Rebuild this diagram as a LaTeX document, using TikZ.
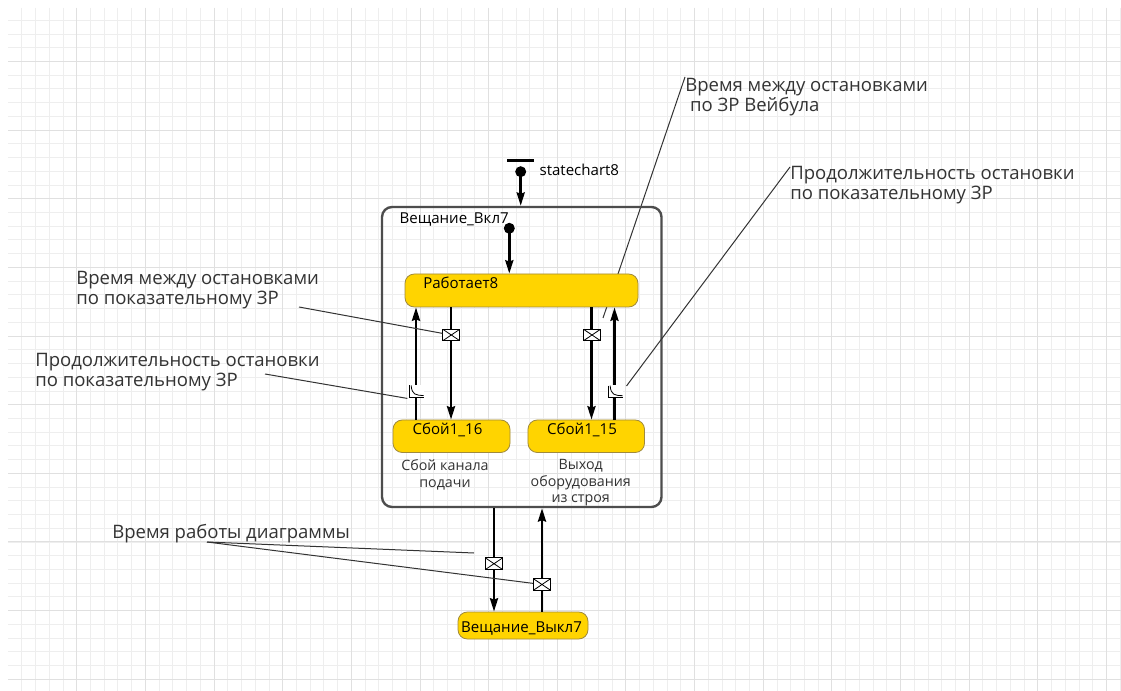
\documentclass[tikz,border=0pt]{standalone}
\usepackage{fontspec}
\setmainfont{Open Sans}
\usetikzlibrary{arrows.meta}
\definecolor{gmin}{HTML}{EEEEEE}
\definecolor{gmaj}{HTML}{E0E0E0}
\definecolor{gold}{HTML}{FFD400}
\definecolor{goldb}{HTML}{A08A3C}
\definecolor{cbord}{HTML}{4D4D4D}
\definecolor{ltext}{HTML}{333333}
\begin{document}
\begin{tikzpicture}[x=0.75pt,y=-0.75pt,
  state/.style={draw=goldb, line width=0.6pt, fill=gold, rounded corners=7pt, inner sep=0pt},
  container/.style={draw=cbord, line width=1.8pt, rounded corners=7.5pt, inner sep=0pt},
  tr/.style={line width=1.9pt, -{Stealth[length=10pt,width=6pt,inset=1pt]}},
  callout/.style={draw=ltext, line width=0.75pt},
  big/.style={font=\fontsize{13.9}{15}\selectfont, text=ltext, inner sep=0pt, align=left},
  mid/.style={font=\fontsize{11.3}{13}\selectfont, inner sep=0pt},
  small/.style={font=\fontsize{10.7}{12.4}\selectfont, text=ltext, inner sep=0pt, align=center},
  dot/.style={circle, fill=black, minimum size=8.25pt, inner sep=0pt},
  bar/.style={fill=black, minimum width=20pt, minimum height=2.25pt, inner sep=0pt},
  envelope/.style={draw=black, fill=white, line width=0.75pt, minimum width=12.75pt, minimum height=8.6pt, inner sep=0pt,
    path picture={\draw[line width=0.6pt] (path picture bounding box.north west) -- (path picture bounding box.south east)
      (path picture bounding box.north east) -- (path picture bounding box.south west);}},
  timeout/.style={fill=white, minimum width=12.5pt, minimum height=10pt, inner sep=0pt,
    path picture={\draw[line width=0.75pt] ([xshift=1pt,yshift=-0.5pt]path picture bounding box.north west) -- ([xshift=1pt,yshift=0.8pt]path picture bounding box.south west) -- ([yshift=0.8pt]path picture bounding box.south east);
      \draw[line width=0.6pt] ([xshift=2.6pt,yshift=-0.5pt]path picture bounding box.north west) .. controls ([xshift=3.2pt,yshift=2.5pt]path picture bounding box.south west) and ([xshift=6pt,yshift=2.2pt]path picture bounding box.south west) .. ([xshift=-0.5pt,yshift=2pt]path picture bounding box.south east);}}
]
\useasboundingbox (0,0) rectangle (1121,691);
\fill[white] (0,0) rectangle (1121,691);
% grid (snapped to pixel centres)
\foreach \i in {1,...,81} \draw[gmin, line width=0.75pt] ({round(7.65+\i*13.73)+0.5},8) -- ({round(7.65+\i*13.73)+0.5},691);
\foreach \i in {1,...,49} \draw[gmin, line width=0.75pt] (8,{round(6.08+\i*13.73)+0.5}) -- (1121,{round(6.08+\i*13.73)+0.5});
\foreach \i in {1,...,16} \draw[gmaj, line width=0.75pt] ({round(7.66+\i*68.64)+0.5},8) -- ({round(7.66+\i*68.64)+0.5},691);
\foreach \i in {1,...,10} \draw[gmaj, line width=0.75pt] (8,{round(-7.64+\i*68.64)+0.5}) -- (1121,{round(-7.64+\i*68.64)+0.5});

% callout texts (base = baseline of last line)
\node[big, anchor=base west] (tA) at (76,305) {Время между остановками\\по показательному ЗР};
\node[big, anchor=base west] (tB) at (35,387) {Продолжительность остановки\\по показательному ЗР};
\node[big, anchor=base west] (tC) at (685,111.7) {Время между остановками\\\ по ЗР Вейбула};
\node[big, anchor=base west] (tD) at (790,199.3) {Продолжительность остановки\\по показательному ЗР};
\node[big, anchor=base west] (tE) at (112,538) {Время работы диаграммы};

% container and states
\coordinate (cW) at (685,77);
\coordinate (cWe) at (603,318);
\draw[callout] (cW) -- (cWe);

\node[container, minimum width=209.6pt, minimum height=225pt] (on) at (521.75,357) {};
\node[mid, anchor=base west] (onL) at (399.3,224) {Вещание\_Вкл7};
\node[state, minimum width=174.75pt, minimum height=24.75pt] (work) at (521.5,290.5) {};
\node[mid, anchor=base west] (workL) at (423,288.3) {Работает8};
\node[state, minimum width=87.75pt, minimum height=24.4pt] (s16) at (451.5,436.25) {};
\node[mid, anchor=base] (s16L) at (447.5,434.3) {Сбой1\_16};
\node[state, minimum width=87.4pt, minimum height=24.4pt] (s15) at (586.25,436.25) {};
\node[mid, anchor=base] (s15L) at (582,434.3) {Сбой1\_15};
\node[state, minimum width=97.5pt, minimum height=20.25pt] (off) at (523,625.5) {};
\node[mid, anchor=base] (offL) at (521.5,632.7) {Вещание\_Выкл7};

\node[small, anchor=base] (d16) at (445,487) {Сбой канала\\подачи};
\node[small, anchor=base] (d15) at (580.7,503) {Выход\\оборудования\\из строя};

% initial pseudostates
\node[bar] (bar) at (520.5,160.7) {};
\node[dot] (i1) at (520.7,171.7) {};
\node[mid, anchor=base west] (scL) at (539.3,176) {statechart8};
\draw[tr] (i1.center) -- (on.north -| i1);
\node[dot] (i2) at (509.3,228.3) {};
\draw[tr] (i2.center) -- (work.north -| i2);

% transitions
\coordinate (xa) at (416,0);
\coordinate (xb) at (451,0);
\coordinate (xc) at (591.5,0);
\coordinate (xd) at (614.5,0);
\coordinate (xe) at (494,0);
\coordinate (xf) at (542,0);
\draw[tr] (s16.north -| xa) -- (work.south -| xa);
\draw[tr] (work.south -| xb) -- (s16.north -| xb);
\draw[tr] (work.south -| xc) -- (s15.north -| xc);
\draw[tr] (s15.north -| xd) -- (work.south -| xd);
\draw[tr] (on.south -| xe) -- (off.north -| xe);
\draw[tr] (off.north -| xf) -- (on.south -| xf);

% event icons
\node[envelope] (m1) at (451.3,335) {};
\node[envelope] (m2) at (592,335) {};
\node[timeout] (t1) at (416,391.5) {};
\node[timeout] (t2) at (615,391.7) {};
\node[envelope] (m3) at (494,563.7) {};
\node[envelope] (m4) at (542,584.5) {};

% callout lines
\coordinate (cA) at (299,307);
\draw[callout] (cA) -- (m1);
\coordinate (cB) at (265,374);
\draw[callout] (cB) -- (t1.south west);
\coordinate (cD) at (790,167);
\coordinate (cDe) at (626.5,386);
\draw[callout] (cD) -- (cDe);
\coordinate (cE) at (207,542);
\coordinate (cEe) at (474,553);
\draw[callout] (cE) -- (cEe);
\draw[callout] (cE) -- (m4);
\end{tikzpicture}
\end{document}
